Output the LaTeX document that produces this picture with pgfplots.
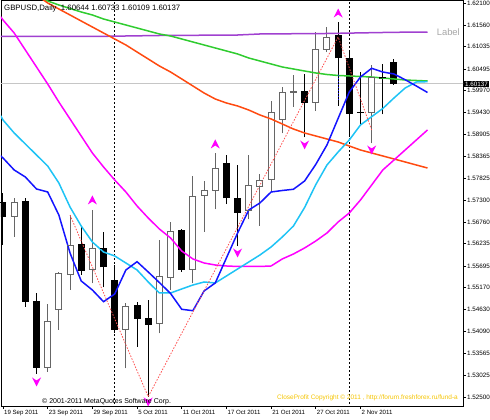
\documentclass[border=0pt]{standalone}
\usepackage{pgfplots}
\pgfplotsset{compat=1.18}
\usepackage{pgfplotstable}
\usepackage{fontspec}
\setmainfont{Liberation Sans}

\definecolor{maBlue}{HTML}{1414FF}
\definecolor{maCyan}{HTML}{1EC3F5}
\definecolor{maMag}{HTML}{FF00FF}
\definecolor{maOrange}{HTML}{FF4A10}
\definecolor{maGreen}{HTML}{30CC30}
\definecolor{maPurple}{HTML}{A040D0}
\definecolor{zzRed}{HTML}{FF5050}
\definecolor{bullGray}{HTML}{666666}
\definecolor{cpYellow}{HTML}{F5C400}

% fractal arrows
\pgfdeclareplotmark{fracup}{%
  \pgfpathmoveto{\pgfqpoint{0pt}{\pgfplotmarksize}}%
  \pgfpathlineto{\pgfqpoint{\pgfplotmarksize}{-\pgfplotmarksize}}%
  \pgfpathlineto{\pgfqpoint{0pt}{-0.35\pgfplotmarksize}}%
  \pgfpathlineto{\pgfqpoint{-\pgfplotmarksize}{-\pgfplotmarksize}}%
  \pgfpathclose\pgfusepathqfill}
\pgfdeclareplotmark{fracdown}{%
  \pgfpathmoveto{\pgfqpoint{0pt}{-\pgfplotmarksize}}%
  \pgfpathlineto{\pgfqpoint{\pgfplotmarksize}{\pgfplotmarksize}}%
  \pgfpathlineto{\pgfqpoint{0pt}{0.35\pgfplotmarksize}}%
  \pgfpathlineto{\pgfqpoint{-\pgfplotmarksize}{\pgfplotmarksize}}%
  \pgfpathclose\pgfusepathqfill}

% daily candles, i = bar index from 19 Sep 2011
\pgfplotstableread{
i o h l c
1 1.56894 1.57357 1.56407 1.57235
4 1.53215 1.54767 1.53118 1.54336
5 1.54638 1.55554 1.54134 1.55498
6 1.55491 1.56936 1.55108 1.56180
8 1.55596 1.57057 1.55272 1.56107
11 1.54134 1.54799 1.53201 1.54702
14 1.54280 1.56326 1.54054 1.55449
15 1.55418 1.56772 1.55108 1.56529
17 1.55596 1.57886 1.55272 1.57381
18 1.57398 1.57764 1.56529 1.57544
19 1.57544 1.58439 1.57074 1.58073
22 1.57040 1.58397 1.56831 1.57642
23 1.57625 1.57934 1.56668 1.57771
24 1.57788 1.59713 1.57503 1.59428
25 1.59267 1.60061 1.58926 1.59915
26 1.59920 1.60346 1.59574 1.59944
28 1.59681 1.61386 1.59476 1.60955
29 1.60972 1.61508 1.60906 1.61264
33 1.59437 1.60590 1.58682 1.60280
}\bull
\pgfplotstableread{
i o h l c
0 1.57235 1.57471 1.56205 1.56894
2 1.57260 1.57357 1.54702 1.54823
3 1.54823 1.55028 1.53062 1.53215
7 1.56205 1.56643 1.55474 1.55579
9 1.56124 1.56529 1.55174 1.55661
10 1.55328 1.55717 1.54061 1.54134
12 1.54719 1.54823 1.53727 1.54402
13 1.54419 1.54865 1.52509 1.54256
16 1.56546 1.56594 1.55547 1.55596
20 1.58195 1.58397 1.57203 1.57342
21 1.57342 1.58154 1.56180 1.56996
27 1.59939 1.60370 1.58828 1.59671
30 1.61296 1.61644 1.59591 1.60753
31 1.60753 1.60914 1.58843 1.59396
32 1.59433 1.60426 1.59128 1.59420
34 1.60283 1.60614 1.59389 1.60278
35 1.60644 1.60733 1.60109 1.60137
}\bear

\begin{document}
\begin{tikzpicture}[x=1pt,y=1pt]
\useasboundingbox (0,0) rectangle (490,420);
\begin{axis}[
  at={(1pt,420pt)}, anchor=north west,
  scale only axis, width=462pt, height=406pt,
  xmin=-0.179, xmax=41.178,
  ymin=1.52282, ymax=1.62173,
  axis line style={black, line width=0.8pt},
  tick align=outside, major tick length=3pt,
  tick style={black, line width=0.6pt},
  xtick={0,4,8,12,16,20,24,28,32},
  xticklabels={19 Sep 2011,23 Sep 2011,29 Sep 2011,5 Oct 2011,11 Oct 2011,17 Oct 2011,21 Oct 2011,27 Oct 2011,2 Nov 2011},
  xtick pos=bottom,
  xticklabel style={anchor=north west, font=\fontsize{6.1}{7}\selectfont, inner sep=1pt},
  ytick={1.52500,1.53025,1.53565,1.54090,1.54630,1.55170,1.55695,1.56235,1.56760,1.57300,1.57825,1.58365,1.58905,1.59430,1.59970,1.60495,1.61035,1.61560,1.62100},
  yticklabels={1.52500,1.53025,1.53565,1.54090,1.54630,1.55170,1.55695,1.56235,1.56760,1.57300,1.57825,1.58365,1.58905,1.59430,1.59970,1.60495,1.61035,1.61560,1.62100},
  ytick pos=right, yticklabel pos=right,
  yticklabel style={anchor=west, font=\fontsize{6.3}{7}\selectfont, inner sep=1pt},
]
% month separators and bid line
\addplot[black, line width=0.7pt, dash pattern=on 2pt off 2pt] coordinates {(10,1.5) (10,1.65)};
\addplot[black, line width=0.7pt, dash pattern=on 2pt off 2pt] coordinates {(31,1.5) (31,1.65)};
\addplot[gray!45, line width=0.5pt] coordinates {(-1,1.60137) (42,1.60137)};

% bear candles
\addplot[draw=none, error bars/.cd, y dir=plus, y explicit, error mark=none,
  error bar style={draw=black, solid, line width=1pt}]
  table[x=i, y=l, y error expr=\thisrow{h}-\thisrow{l}] {\bear};
\addplot[draw=none, error bars/.cd, y dir=plus, y explicit, error mark=none,
  error bar style={draw=black, solid, line width=7pt}]
  table[x=i, y=c, y error expr=\thisrow{o}-\thisrow{c}] {\bear};
\addplot[only marks, mark=-, mark size=3.5pt, mark options={black, line width=1pt}]
  table[x=i, y=o] {\bear};
% bull candles
\addplot[draw=none, error bars/.cd, y dir=plus, y explicit, error mark=none,
  error bar style={draw=bullGray, solid, line width=1pt}]
  table[x=i, y=l, y error expr=\thisrow{h}-\thisrow{l}] {\bull};
\addplot[draw=none, error bars/.cd, y dir=plus, y explicit, error mark=none,
  error bar style={draw=bullGray, solid, line width=7pt}]
  table[x=i, y=o, y error expr=\thisrow{c}-\thisrow{o}] {\bull};
\addplot[draw=none, error bars/.cd, y dir=plus, y explicit, error mark=none,
  error bar style={draw=white, solid, line width=5pt}]
  table[x=i, y=o, y error expr=\thisrow{c}-\thisrow{o}] {\bull};
\addplot[only marks, mark=-, mark size=3.5pt, mark options={bullGray, line width=1pt}]
  table[x=i, y=o] {\bull};
\addplot[only marks, mark=-, mark size=3.5pt, mark options={bullGray, line width=1pt}]
  table[x=i, y=c] {\bull};

% moving averages
\addplot[maPurple, line width=1.5pt] coordinates {(-1,1.61284) (8,1.61284) (14,1.61308) (21,1.61320) (23,1.61345) (29,1.61357) (35,1.61386) (38,1.61393)};
\addplot[maGreen, line width=1.5pt] coordinates {(3,1.62246) (4,1.62149) (5,1.62051) (6,1.61966) (7,1.61881) (8,1.61808) (9,1.61710) (10,1.61637) (11,1.61564) (12,1.61491) (13,1.61418) (14,1.61345) (15,1.61296) (16,1.61223) (17,1.61150) (18,1.61077) (19,1.61004) (20,1.60931) (21,1.60858) (22,1.60760) (23,1.60687) (24,1.60614) (25,1.60541) (26,1.60492) (27,1.60443) (28,1.60395) (29,1.60358) (30,1.60334) (31,1.60322) (32,1.60309) (33,1.60297) (34,1.60273) (35,1.60249) (36,1.60224) (37,1.60212) (38,1.60200)};
\addplot[maOrange, line width=1.5pt] coordinates {(3,1.62295) (4,1.62100) (5,1.61954) (6,1.61808) (7,1.61661) (8,1.61515) (9,1.61369) (10,1.61223) (11,1.61077) (12,1.60906) (13,1.60736) (14,1.60565) (15,1.60419) (16,1.60249) (17,1.60078) (18,1.59907) (19,1.59761) (20,1.59664) (21,1.59591) (22,1.59493) (23,1.59372) (24,1.59274) (25,1.59152) (26,1.59030) (27,1.58933) (28,1.58860) (29,1.58787) (30,1.58714) (31,1.58616) (32,1.58519) (33,1.58446) (34,1.58373) (35,1.58300) (36,1.58227) (37,1.58153) (38,1.58080)};
\addplot[maMag, line width=1.5pt] coordinates {(-1,1.62051) (0,1.61686) (1,1.61369) (2,1.60955) (3,1.60541) (4,1.60127) (5,1.59688) (6,1.59274) (7,1.58860) (8,1.58446) (9,1.58105) (10,1.57788) (11,1.57496) (12,1.57155) (13,1.56862) (14,1.56594) (15,1.56375) (16,1.56058) (17,1.55864) (18,1.55766) (19,1.55717) (20,1.55693) (21,1.55681) (22,1.55681) (23,1.55681) (24,1.55693) (25,1.55864) (26,1.55985) (27,1.56132) (28,1.56302) (29,1.56497) (30,1.56765) (31,1.56984) (32,1.57301) (33,1.57666) (34,1.58032) (35,1.58275) (36,1.58519) (37,1.58763) (38,1.59006)};
\addplot[maCyan, line width=1.5pt] coordinates {(-1,1.59737) (0,1.59250) (1,1.58933) (2,1.58665) (3,1.58397) (4,1.58129) (5,1.57715) (6,1.57130) (7,1.56667) (8,1.56278) (9,1.56034) (10,1.55937) (11,1.55766) (12,1.55596) (13,1.55303) (14,1.55035) (15,1.55035) (16,1.55133) (17,1.55230) (18,1.55303) (19,1.55279) (20,1.55449) (21,1.55620) (22,1.55790) (23,1.55961) (24,1.56156) (25,1.56399) (26,1.56667) (27,1.57118) (28,1.57676) (29,1.58153) (30,1.58470) (31,1.58763) (32,1.59128) (33,1.59330) (34,1.59530) (35,1.59786) (36,1.60029) (37,1.60175) (38,1.60183)};
\addplot[maBlue, line width=1.5pt] coordinates {(-1,1.58568) (0,1.58324) (1,1.58032) (2,1.57861) (3,1.57569) (4,1.57496) (5,1.56935) (6,1.56010) (7,1.55328) (8,1.55108) (9,1.54823) (10,1.55011) (11,1.55596) (12,1.55798) (13,1.55547) (14,1.55289) (15,1.55023) (16,1.54638) (17,1.54604) (18,1.55084) (19,1.55279) (20,1.55888) (21,1.56497) (22,1.57057) (23,1.57228) (24,1.57496) (25,1.57532) (26,1.57562) (27,1.57764) (28,1.58168) (29,1.58641) (30,1.59289) (31,1.59932) (32,1.60297) (33,1.60509) (34,1.60419) (35,1.60370) (36,1.60231) (37,1.60078) (38,1.59920)};

% zigzag and fractals
\addplot[zzRed, line width=0.8pt, dash pattern=on 1.5pt off 1.5pt] coordinates {(6,1.56935) (13,1.52509) (30,1.61272) (33,1.59006)};
\addplot[maBlue, line width=0.8pt, dash pattern=on 1.5pt off 1.5pt] coordinates {(30,1.60346) (30,1.59737)};
\addplot[only marks, mark=fracup, mark size=4.5pt, maMag] coordinates {(8,1.57301) (19,1.58665) (30,1.61856)};
\addplot[only marks, mark=fracdown, mark size=4.5pt, maMag] coordinates {(3,1.52867) (13,1.52380) (21,1.56010) (27,1.58641) (33,1.58519)};
\end{axis}

% texts (pixel positions, y measured from the top)
\node[anchor=west, inner sep=0pt, font=\fontsize{7.8}{9}\selectfont] at (4,412) {GBPUSD,Daily\ \ 1.60644 1.60733 1.60109 1.60137};
\node[anchor=east, inner sep=0pt, text=black!35, font=\fontsize{9.4}{11}\selectfont] at (460,388) {Label};
\node[anchor=west, inner sep=0pt, font=\fontsize{7}{8}\selectfont] at (42,18) {© 2001-2011 MetaQuotes Software Corp.};
\node[anchor=east, inner sep=0pt, text=cpYellow, font=\fontsize{6.5}{8}\selectfont] at (458,22) {CloseProfit Copyright © 2011 , http://forum.freshforex.ru/fund-a};
\node[anchor=west, fill=black, text=white, inner xsep=1pt, inner ysep=1.2pt, font=\fontsize{6.3}{7}\selectfont] at (464,336) {1.60137};
\end{tikzpicture}
\end{document}
